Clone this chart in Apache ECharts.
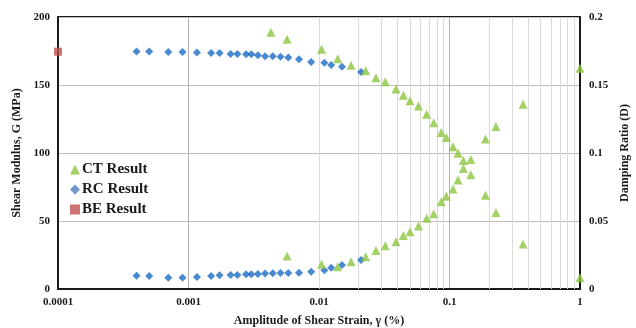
<!DOCTYPE html>
<html>
<head>
<meta charset="utf-8">
<script src="https://cdn.jsdelivr.net/npm/echarts@6/dist/echarts.min.js"></script>
<style>
  html, body { margin: 0; padding: 0; background: #fff; }
  #chart { width: 636px; height: 328px; }
</style>
</head>
<body>
<div id="chart"></div>
<script>
// Strain amplitude (%) and results from the three test methods
const rcStrain = [0.0004, 0.0005, 0.0007, 0.0009, 0.00116, 0.00149, 0.00173, 0.0021, 0.00237, 0.00276, 0.00303,
  0.0034, 0.00386, 0.00442, 0.00507, 0.00582, 0.00703, 0.00871, 0.0110, 0.0124, 0.0150, 0.0210];
const rcModulus = [174.6, 174.6, 174.3, 174.3, 173.9, 173.5, 173.5, 172.8, 172.8, 172.6, 172.6,
  171.9, 171.2, 171.1, 170.8, 170.2, 168.9, 166.9, 166.3, 164.7, 163.5, 159.6];
const rcDamping = [0.0098, 0.0096, 0.0083, 0.0083, 0.0088, 0.0096, 0.0101, 0.0103, 0.0103, 0.0108, 0.0108,
  0.0110, 0.0114, 0.0115, 0.0118, 0.0118, 0.0120, 0.0127, 0.0138, 0.0157, 0.0176, 0.0213];

const ctStrain = [0.00428, 0.00569, 0.01045, 0.0139, 0.0176, 0.0228, 0.0273, 0.0322, 0.0389, 0.0443, 0.0498, 0.0578,
  0.0669, 0.0757, 0.0864, 0.0946, 0.1064, 0.1162, 0.1276, 0.1456, 0.1888, 0.227, 0.366, 1.0];
const ctModulus = [188.8, 183.6, 176.3, 169.3, 164.5, 160.5, 155.4, 152.4, 147.1, 142.5, 138.4, 134.6,
  128.5, 122.2, 115.1, 111.4, 104.6, 99.9, 94.5, 84.0, 69.0, 56.3, 33.1, 8.3];
const ctDamping = [null, 0.0243, 0.0182, 0.0164, 0.0200, 0.0238, 0.0283, 0.0318, 0.0348, 0.0393, 0.0421, 0.0463,
  0.0520, 0.0554, 0.0642, 0.0682, 0.0735, 0.0801, 0.0886, 0.0952, 0.1103, 0.1195, 0.1358, 0.1623];

const beStrain = [0.0001];
const beModulus = [174.5];

// Axis ticks
const strainTicks = ['0.0001', '0.001', '0.01', '0.1', '1'];
const modulusTicks = ['0', '50', '100', '150', '200'];
const dampingTicks = ['0', '0.05', '0.1', '0.15', '0.2'];
// Intermediate strain gridlines (2..9 within each decade)
const minorStrain = [];
[0.0001, 0.001, 0.01, 0.1].forEach(function (d) {
  for (let k = 2; k <= 9; k++) minorStrain.push(+(d * k).toPrecision(3));
});

const serif = '"Liberation Serif", "Times New Roman", serif';
const green = '#8cc63f';
const blue = '#1a6cc4';
const red = '#c0504d';

function pairs(xs, ys) {
  const out = [];
  for (let i = 0; i < xs.length; i++) if (ys[i] != null) out.push([xs[i], ys[i]]);
  return out;
}

const chart = echarts.init(document.getElementById('chart'), null, { renderer: 'canvas' });
const labelStyle = { fontFamily: serif, fontWeight: 'bold', fontSize: 11, color: '#1a1a1a' };
const nameStyle = { fontFamily: serif, fontWeight: 'bold', fontSize: 12, color: '#1a1a1a' };

chart.setOption({
  animation: false,
  backgroundColor: '#fff',
  grid: {
    left: 58, right: 56, top: 17, bottom: 39, outerBoundsMode: 'none', containLabel: false,
    show: true, borderColor: '#1a1a1a', borderWidth: 2, backgroundColor: 'transparent'
  },
  legend: {
    orient: 'vertical',
    left: 65,
    top: 157,
    itemWidth: 10,
    itemHeight: 10,
    itemGap: 5,
    data: [
      { name: 'CT Result', icon: 'triangle', itemStyle: { color: green } },
      { name: 'RC Result', icon: 'diamond', itemStyle: { color: '#4a7ebb' } },
      { name: 'BE Result', icon: 'rect', itemStyle: { color: red } }
    ],
    textStyle: { fontFamily: serif, fontWeight: 'bold', fontSize: 15, lineHeight: 15, color: '#1a1a1a', padding: [0, 0, 0, -3] }
  },
  xAxis: [{
    type: 'log', logBase: 10, min: 0.0001, max: 1,
    name: 'Amplitude of Shear Strain, γ (%)',
    nameLocation: 'middle', nameGap: 26, nameTextStyle: nameStyle,
    axisLine: { show: true, lineStyle: { color: '#1a1a1a', width: 2 } },
    axisTick: { show: false },
    axisLabel: Object.assign({ margin: 8, formatter: function (v, i) { return strainTicks[i]; } }, labelStyle),
    splitLine: { show: true, lineStyle: { color: '#b4b4b4', width: 1 } }
  }],
  yAxis: [{
    type: 'value', min: 0, max: 200, interval: 50,
    name: 'Shear Modulus, G (MPa)', nameLocation: 'middle', nameGap: 31, nameRotate: 90,
    nameTextStyle: nameStyle,
    axisLine: { show: true, lineStyle: { color: '#1a1a1a', width: 2 } },
    axisTick: { show: false },
    axisLabel: Object.assign({ margin: 8, formatter: function (v, i) { return modulusTicks[i]; } }, labelStyle),
    splitLine: { show: true, lineStyle: { color: '#bdbdbd', width: 1 } }
  }, {
    type: 'value', min: 0, max: 0.2, interval: 0.05, position: 'right',
    name: 'Damping Ratio (D)', nameLocation: 'middle', nameGap: 37, nameRotate: 90,
    nameTextStyle: nameStyle,
    axisLine: { show: true, lineStyle: { color: '#1a1a1a', width: 2 } },
    axisTick: { show: false },
    axisLabel: Object.assign({ margin: 9, formatter: function (v, i) { return dampingTicks[i]; } }, labelStyle),
    splitLine: { show: false }
  }],
  series: [
    {
      // carries the intermediate strain gridlines
      type: 'line', data: [], silent: true, z: 1,
      markLine: {
        silent: true, symbol: 'none', label: { show: false },
        lineStyle: { color: '#dadada', width: 1, type: 'solid' },
        data: minorStrain.map(function (v) { return { xAxis: v }; }),
        z: 1
      }
    },
    {
      name: 'RC Result', type: 'scatter', yAxisIndex: 0, symbol: 'diamond', symbolSize: 8,
      itemStyle: { color: blue }, data: pairs(rcStrain, rcModulus), z: 3
    },
    {
      name: 'RC Result', type: 'scatter', yAxisIndex: 1, symbol: 'diamond', symbolSize: 8,
      itemStyle: { color: blue }, data: pairs(rcStrain, rcDamping), z: 3
    },
    {
      name: 'CT Result', type: 'scatter', yAxisIndex: 0, symbol: 'triangle', symbolSize: 9,
      itemStyle: { color: green }, data: pairs(ctStrain, ctModulus), clip: false, z: 4
    },
    {
      name: 'CT Result', type: 'scatter', yAxisIndex: 1, symbol: 'triangle', symbolSize: 9,
      itemStyle: { color: green }, data: pairs(ctStrain, ctDamping), clip: false, z: 4
    },
    {
      name: 'BE Result', type: 'scatter', yAxisIndex: 0, symbol: 'rect', symbolSize: 8,
      itemStyle: { color: red }, data: pairs(beStrain, beModulus), clip: false, z: 5
    }
  ]
});
</script>
</body>
</html>
